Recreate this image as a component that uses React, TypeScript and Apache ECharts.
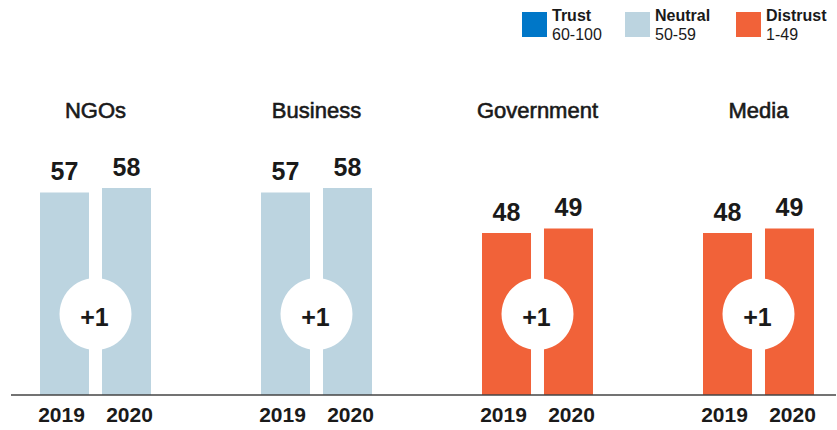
import React, { useEffect, useRef } from "react";
import * as echarts from "echarts";

const CATEGORIES = ["NGOs", "Business", "Government", "Media"];
const YEARS = ["2019", "2020"];
const VALUES_2019 = [57, 57, 48, 48];
const VALUES_2020 = [58, 58, 49, 49];
const BANDS = ["Trust", "Neutral", "Distrust"];
const BAND_RANGES = ["60-100", "50-59", "1-49"];
const BAND_COLORS = ["#0077c8", "#bcd4e0", "#f16239"];
const BADGE_LEVEL = 30;

const FONT = "'Liberation Sans', Arial, Helvetica, sans-serif";
const INK = "#1a1a1a";

function bandColor(v: number): string {
  if (v >= 60) return BAND_COLORS[0];
  if (v >= 50) return BAND_COLORS[1];
  return BAND_COLORS[2];
}

export default function App() {
  const ref = useRef<HTMLDivElement>(null);

  useEffect(() => {
    if (!ref.current) return;
    const chart = echarts.init(ref.current, undefined, { renderer: "svg" });

    const legendWidths = [63, 71, 70];
    const rich: Record<string, any> = {};
    BANDS.forEach((_, i) => {
      rich["h" + i] = {
        fontFamily: FONT,
        fontSize: 16,
        fontWeight: "bold",
        color: INK,
        width: legendWidths[i],
        lineHeight: 19,
      };
      rich["r" + i] = {
        fontFamily: FONT,
        fontSize: 16,
        color: INK,
        width: legendWidths[i],
        lineHeight: 19,
      };
    });

    const barSeries = [VALUES_2019, VALUES_2020].map((vals, si) => ({
      type: "bar",
      name: YEARS[si],
      data: vals,
      barWidth: 49,
      barGap: "26.5%",
      itemStyle: {
        color: (p: any) => bandColor(p.value),
      },
      label: {
        show: true,
        position: "top",
        distance: 9,
        fontFamily: FONT,
        fontSize: 25,
        fontWeight: "bold",
        color: INK,
      },
      z: 2,
    }));

    const badgeData = CATEGORIES.map((c, i) => [
      c,
      BADGE_LEVEL,
      VALUES_2020[i] - VALUES_2019[i],
    ]);

    chart.setOption({
      animation: false,
      legend: {
        left: 522,
        top: 7,
        width: 320,
        padding: 0,
        itemWidth: 25,
        itemHeight: 25,
        itemGap: 10,
        selectedMode: false,
        data: BANDS.map((b, i) => ({
          name: b,
          icon: "rect",
          itemStyle: { color: BAND_COLORS[i], opacity: 1 },
        })),
        formatter: (name: string) => {
          const i = BANDS.indexOf(name);
          return `{h${i}|${name}}\n{r${i}|${BAND_RANGES[i]}}`;
        },
        textStyle: { rich },
      },
      grid: {
        left: -15,
        width: 884,
        top: 125,
        bottom: 35,
        outerBoundsMode: "none",
        containLabel: false,
      },
      xAxis: [
        {
          type: "category",
          data: CATEGORIES,
          position: "bottom",
          axisLine: { show: false },
          axisTick: { show: false },
          axisLabel: {
            margin: 9,
            formatter: () => YEARS.map((y) => `{y|${y}}`).join(""),
            rich: {
              y: {
                fontFamily: FONT,
                fontSize: 21,
                fontWeight: "bold",
                color: INK,
                width: 68,
                align: "center",
              },
            },
          },
        },
        {
          type: "category",
          data: CATEGORIES,
          position: "top",
          axisLine: { show: false },
          axisTick: { show: false },
          axisLabel: {
            margin: 4,
            fontFamily: FONT,
            fontSize: 22,
            color: INK,
            textBorderColor: INK,
            textBorderWidth: 0.6,
          },
        },
      ],
      yAxis: {
        type: "value",
        min: 12,
        max: 72,
        show: false,
        splitLine: { show: false },
      },
      graphic: [
        {
          type: "line",
          shape: { x1: 11, y1: 395, x2: 836, y2: 395 },
          style: { stroke: "#444444", lineWidth: 1.3 },
          z: 10,
        },
      ],
      series: [
        ...barSeries,
        {
          type: "scatter",
          name: "change",
          data: badgeData,
          symbol: "circle",
          symbolSize: 72,
          itemStyle: { color: "#ffffff", opacity: 1 },
          label: {
            show: true,
            position: "inside",
            offset: [-1, 3],
            formatter: (p: any) => {
              const d = p.value[2];
              return (d > 0 ? "+" : "") + d;
            },
            fontFamily: FONT,
            fontSize: 25,
            fontWeight: "bold",
            color: INK,
          },
          z: 5,
        },
        ...BANDS.map((b, i) => ({
          type: "scatter",
          name: b,
          data: [],
          itemStyle: { color: BAND_COLORS[i], opacity: 1 },
        })),
      ],
    });

    return () => chart.dispose();
  }, []);

  return (
    <div
      ref={ref}
      style={{
        position: "fixed",
        left: 0,
        top: 0,
        width: 837,
        height: 430,
        background: "#ffffff",
      }}
    />
  );
}
